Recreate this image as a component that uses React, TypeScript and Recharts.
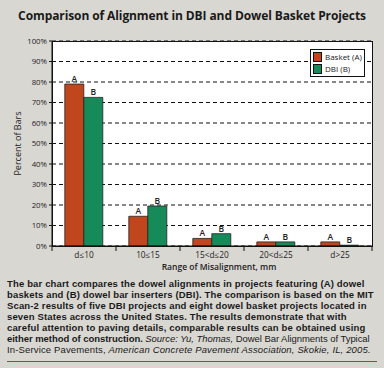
import React from "react";
import {
  BarChart,
  Bar,
  XAxis,
  YAxis,
  CartesianGrid,
  LabelList,
} from "recharts";

const categories = ["d\u226410", "10\u226415", "15<d\u226420", "20<d\u226425", "d>25"];
const basket = [79, 14.5, 3.7, 2, 2];
const dbi = [72.5, 19.5, 6, 2, 0.4];
const yTicks = [0, 10, 20, 30, 40, 50, 60, 70, 80, 90, 100];

const data = categories.map((c, i) => ({ cat: c, basket: basket[i], dbi: dbi[i] }));

const ORANGE = "#c0461d";
const GREEN = "#178a5a";
const FONT = "'Open Sans', Lato, sans-serif";
const CAPTION_FONT = "'Liberation Sans', Arial, sans-serif";

const XTick = (props: any) => {
  const { x, y, payload } = props;
  return (
    <g>
      <line x1={x + 32} x2={x + 32} y1={y - 8} y2={y - 3} stroke="#111" strokeWidth={1} />
      {payload.index === 0 && (
        <line x1={x - 32} x2={x - 32} y1={y - 8} y2={y - 3} stroke="#111" strokeWidth={1} />
      )}
      <text x={x} y={y + 4} textAnchor="middle" fontSize={8.3} fill="#222" fontFamily={FONT}>
        {payload.value}
      </text>
    </g>
  );
};

const legendItems = [
  ["Basket (A)", ORANGE],
  ["DBI (B)", GREEN],
];

export default function App() {
  return (
    <div
      style={{
        position: "absolute",
        left: 0,
        top: 0,
        width: 384,
        height: 368,
        background: "#d9d7d2",
        fontFamily: FONT,
        overflow: "hidden",
      }}
    >
      <div
        style={{
          position: "absolute",
          top: 7,
          width: 384,
          textAlign: "center",
          fontWeight: 700,
          fontSize: 12,
          letterSpacing: -0.1,
          color: "#1a1a1a",
        }}
      >
        Comparison of Alignment in DBI and Dowel Basket Projects
      </div>

      <div style={{ position: "absolute", left: 0, top: 0, width: 384, height: 368 }}>
        <BarChart
          width={384}
          height={368}
          data={data}
          margin={{ top: 41, right: 12, left: 0, bottom: 102 }}
          barCategoryGap="20%"
          barGap={0}
        >
          <CartesianGrid
            vertical={false}
            stroke="#111"
            strokeDasharray="4 3"
            fill="#fff"
            fillOpacity={1}
          />
          <XAxis
            dataKey="cat"
            height={20}
            tickLine={false}
            axisLine={{ stroke: "#111" }}
            tick={<XTick />}
            interval={0}
          />
          <YAxis
            width={52}
            domain={[0, 100]}
            ticks={yTicks}
            interval={0}
            tickFormatter={(v: number) => `${v}%`}
            tick={{ fontSize: 7.8, fill: "#222", fontFamily: FONT }}
            tickSize={3}
            tickLine={{ stroke: "#111" }}
            axisLine={{ stroke: "#111" }}
            label={{
              value: "Percent of Bars",
              angle: -90,
              position: "insideLeft",
              offset: 18,
              style: { textAnchor: "middle", fontSize: 9, fill: "#222", fontFamily: FONT },
            }}
          />
          <Bar dataKey="basket" name="Basket (A)" fill={ORANGE} stroke="#222" strokeWidth={0.8} isAnimationActive={false}>
            <LabelList
              dataKey="basket"
              position="top"
              offset={2}
              formatter={() => "A"}
              style={{ fontSize: 8.5, fill: "#222", fontWeight: 600, fontFamily: FONT }}
            />
          </Bar>
          <Bar dataKey="dbi" name="DBI (B)" fill={GREEN} stroke="#222" strokeWidth={0.8} isAnimationActive={false}>
            <LabelList
              dataKey="dbi"
              position="top"
              offset={2}
              formatter={() => "B"}
              style={{ fontSize: 8.5, fill: "#222", fontWeight: 600, fontFamily: FONT }}
            />
          </Bar>
        </BarChart>
      </div>

      <div
        style={{
          position: "absolute",
          left: 52,
          top: 41,
          width: 319,
          height: 204,
          border: "1px solid #111",
          pointerEvents: "none",
        }}
      />

      <div
        style={{
          position: "absolute",
          left: 310,
          top: 49,
          width: 49,
          border: "1px solid #111",
          background: "#fff",
          padding: "1px 2px 1px 2px",
          fontSize: 8,
          lineHeight: "12px",
          color: "#222",
          whiteSpace: "nowrap",
        }}
      >
        {legendItems.map(([t, c]) => (
          <div key={t} style={{ display: "flex", alignItems: "center" }}>
            <span
              style={{
                display: "inline-block",
                width: 7,
                height: 8,
                background: c,
                border: "1px solid #111",
                marginRight: 3,
              }}
            />
            {t}
          </div>
        ))}
      </div>

      <div
        style={{
          position: "absolute",
          top: 262,
          left: 119,
          width: 200,
          textAlign: "center",
          fontSize: 8.5,
          lineHeight: "9px",
          fontWeight: 600,
          color: "#222",
        }}
      >
        Range of Misalignment, mm
      </div>

      <div
        style={{
          position: "absolute",
          top: 278,
          left: 7,
          width: 372,
          fontFamily: CAPTION_FONT,
          fontSize: 9.5,
          lineHeight: "11px",
          fontWeight: 700,
          letterSpacing: 0.15,
          color: "#1a1a1a",
          whiteSpace: "nowrap",
        }}
      >
        <div>The bar chart compares the dowel alignments in projects featuring (A) dowel</div>
        <div>baskets and (B) dowel bar inserters (DBI). The comparison is based on the MIT</div>
        <div>Scan-2 results of five DBI projects and eight dowel basket projects located in</div>
        <div>seven States across the United States. The results demonstrate that with</div>
        <div>careful attention to paving details, comparable results can be obtained using</div>
        <div style={{ letterSpacing: -0.05 }}>
          either method of construction.{" "}
          <span style={{ fontWeight: 400, fontStyle: "italic" }}>Source: Yu, Thomas,</span>{" "}
          <span style={{ fontWeight: 400 }}>Dowel Bar Alignments of Typical</span>
        </div>
        <div style={{ fontWeight: 400 }}>
          In-Service Pavements,{" "}
          <span style={{ fontStyle: "italic" }}>American Concrete Pavement Association, Skokie, IL, 2005.</span>
        </div>
      </div>

      <div
        style={{
          position: "absolute",
          top: 361,
          left: 7,
          width: 370,
          height: 1,
          background: "#2f7a4c",
        }}
      />
    </div>
  );
}
